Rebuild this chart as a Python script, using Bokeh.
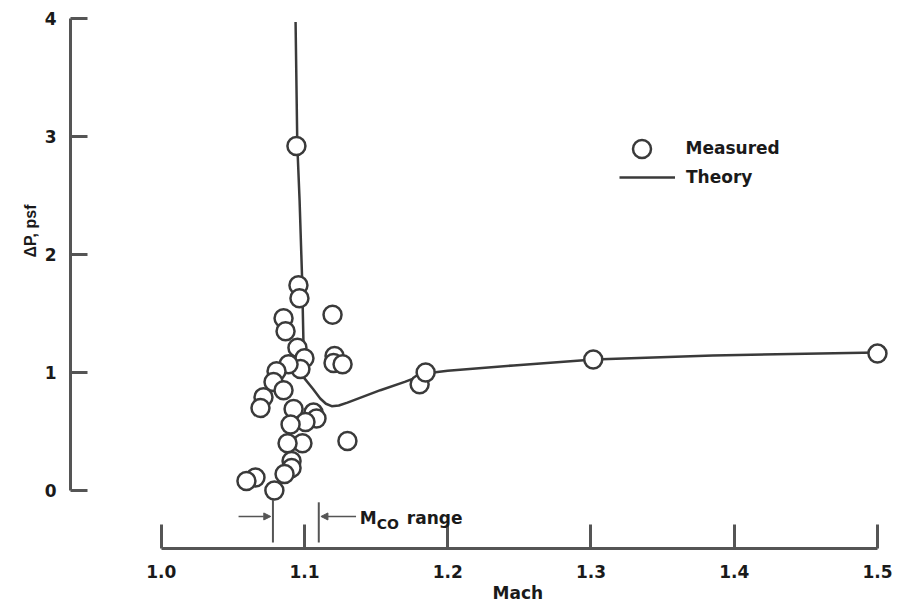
import math
from bokeh.plotting import figure
from bokeh.models import (Range1d, FixedTicker, NumeralTickFormatter, Legend, LegendItem,
                          Label, Arrow, NormalHead, Title)
from bokeh.embed import file_html
from bokeh.resources import INLINE

# ---------------- data ----------------
measured_mach = [1.0944, 1.0958, 1.0965, 1.0854, 1.0868, 1.1196, 1.0951, 1.1000,
                 1.1210, 1.1203, 1.1266, 1.0972, 1.0889, 1.0805, 1.0784, 1.0854,
                 1.0714, 1.0693, 1.0924, 1.1063, 1.1084, 1.1007, 1.0903, 1.0986,
                 1.0882, 1.1300, 1.0910, 1.0910, 1.0861, 1.0658, 1.0595, 1.0790,
                 1.1804, 1.1846, 1.3016, 1.5000]
measured_dp = [2.92, 1.74, 1.63, 1.46, 1.35, 1.49, 1.21, 1.12,
               1.14, 1.08, 1.07, 1.03, 1.07, 1.01, 0.92, 0.85,
               0.79, 0.70, 0.69, 0.66, 0.61, 0.58, 0.56, 0.40,
               0.40, 0.42, 0.25, 0.19, 0.14, 0.11, 0.08, 0.00,
               0.90, 1.00, 1.11, 1.16]

theory_mach = [1.0938, 1.0950, 1.0966, 1.0984, 1.0994, 1.1000, 1.1060, 1.1110,
               1.1150, 1.1190, 1.1240, 1.1300, 1.1530, 1.1700, 1.1810, 1.1900,
               1.2000, 1.2460, 1.3020, 1.3850, 1.5000]
theory_dp = [3.97, 2.93, 2.46, 1.78, 1.20, 0.95, 0.86, 0.78,
             0.735, 0.715, 0.72, 0.745, 0.85, 0.92, 0.97, 1.00,
             1.015, 1.06, 1.11, 1.144, 1.17]

x_ticks = [1.0, 1.1, 1.2, 1.3, 1.4, 1.5]
y_ticks = [0, 1, 2, 3, 4]
mco_range = [1.078, 1.110]

# ---------------- style ----------------
FONT = "DejaVu Sans"
INK = "#1a1a1a"
LINE = "#3a3a3a"
AXIS = "#555555"
W, H = 900, 604

p = figure(width=W, height=H, output_backend="svg", toolbar_location=None,
           x_range=Range1d(0.93668, 1.50771), y_range=Range1d(-0.4915, 4.0508),
           min_border_left=70, min_border_right=12, min_border_top=12, min_border_bottom=56)
p.outline_line_color = None
p.grid.visible = False
p.background_fill_color = "white"
p.border_fill_color = "white"

for ax in (p.xaxis[0], p.yaxis[0]):
    ax.axis_line_color = AXIS
    ax.axis_line_width = 3
    ax.major_tick_line_color = AXIS
    ax.major_tick_line_width = 3
    ax.major_tick_out = 0
    ax.minor_tick_in = 0
    ax.minor_tick_out = 0
    ax.major_label_text_font = FONT
    ax.major_label_text_font_style = "bold"
    ax.major_label_text_font_size = "17px"
    ax.major_label_text_color = INK

p.xaxis.bounds = (x_ticks[0], x_ticks[-1])
p.xaxis.ticker = FixedTicker(ticks=x_ticks)
p.xaxis.formatter = NumeralTickFormatter(format="0.0")
p.xaxis.major_tick_in = 24
p.xaxis.major_label_standoff = 16

p.yaxis.bounds = (y_ticks[0], y_ticks[-1])
p.yaxis.ticker = FixedTicker(ticks=y_ticks)
p.yaxis.formatter = NumeralTickFormatter(format="0")
p.yaxis.major_tick_in = 17
p.yaxis.major_label_standoff = 14

# ---------------- glyphs ----------------
r_th = p.line(theory_mach, theory_dp, line_color=LINE, line_width=2.5)
r_meas = p.scatter(measured_mach, measured_dp, marker="circle", size=18,
                   line_color=LINE, line_width=2.5, fill_color="white")

# M_CO range markers
p.segment(x0=mco_range, y0=[-0.08, -0.10], x1=mco_range, y1=[-0.44, -0.44],
          line_color=AXIS, line_width=2)
p.add_layout(Arrow(x_start=mco_range[0] - 0.024, y_start=-0.22,
                   x_end=mco_range[0] - 0.0015, y_end=-0.22,
                   line_color=AXIS, line_width=1.5,
                   end=NormalHead(size=7, fill_color=AXIS, line_color=AXIS)))
p.add_layout(Arrow(x_start=mco_range[1] + 0.026, y_start=-0.22,
                   x_end=mco_range[1] + 0.0015, y_end=-0.22,
                   line_color=AXIS, line_width=1.5,
                   end=NormalHead(size=7, fill_color=AXIS, line_color=AXIS)))

def lab(text, x, y, size="17px", **kw):
    p.add_layout(Label(text=text, x=x, y=y, text_font=FONT, text_font_style="bold",
                       text_font_size=size, text_color=INK, **kw))

lab("M", mco_range[1], -0.229, x_offset=41, text_baseline="alphabetic")
lab("CO", mco_range[1], -0.28, size="14px", x_offset=58, text_baseline="alphabetic")
lab("range", mco_range[1], -0.229, x_offset=88, text_baseline="alphabetic")

# axis titles as side-panel titles (positioned along the frame with an offset)
p.add_layout(Title(text="ΔP, psf", align="left", offset=291, standoff=5,
                   text_font="Liberation Sans", text_font_style="bold",
                   text_font_size="16px", text_color=INK), "left")
p.add_layout(Title(text="Mach", align="left", offset=422, standoff=0,
                   text_font=FONT, text_font_style="bold",
                   text_font_size="17px", text_color=INK), "below")

# ---------------- legend ----------------
common = dict(padding=0, margin=0, spacing=0, border_line_color=None,
              background_fill_alpha=0, label_text_font=FONT,
              label_text_font_style="bold", label_text_font_size="17px",
              label_text_color=INK)
leg1 = Legend(items=[LegendItem(label="Measured", renderers=[r_meas])],
              location=(548.5, 377.5), glyph_width=45, glyph_height=45,
              label_standoff=22, **common)
leg2 = Legend(items=[LegendItem(label="Theory", renderers=[r_th])],
              location=(549, 361), glyph_width=56, glyph_height=20,
              label_standoff=11, **common)
p.add_layout(leg1)
p.add_layout(leg2)

open("out.html", "w").write(file_html(p, INLINE))
